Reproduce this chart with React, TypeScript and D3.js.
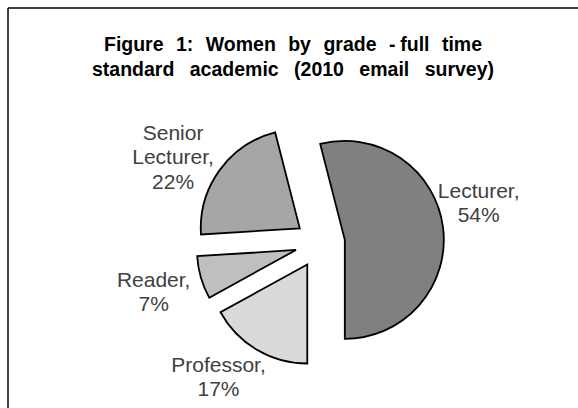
import React from 'react';
import * as d3 from 'd3';

// slice order as drawn clockwise from 6 o'clock
const grades = ['Professor', 'Reader', 'Senior Lecturer', 'Lecturer'];
const shares = [17, 7, 22, 54];
const fills = ['#d9d9d9', '#bfbfbf', '#a6a6a6', '#808080'];
const labelLines = [
  ['Professor,', '17%'],
  ['Reader,', '7%'],
  ['Senior', 'Lecturer,', '22%'],
  ['Lecturer,', '54%'],
];
// small nudges of the label blocks
const labelNudge = [
  [-16, -11],
  [-5, 2],
  [-11, 13],
  [-8, -19],
];
// the hyphen sits close to "full" in the original, hence the narrow space
const titleLines = [
  'Figure 1: Women by grade -\u2005full time',
  'standard academic (2010 email survey)',
];

const W = 578;
const H = 408;

const App = () => {
  const cx = 320;
  const cy = 243;
  const radius = 99;
  const explode = 25;
  const labelR = 168;
  const lineH = 24.4;
  const capH = 14.3;

  const pie = d3.pie<number>()
    .sort(null)
    .startAngle(Math.PI)
    .endAngle(Math.PI * 3);
  const arcs = pie(shares);
  const arc = d3.arc<d3.PieArcDatum<number>>()
    .innerRadius(0)
    .outerRadius(radius);

  return (
    <svg width={W} height={H} style={{ position: 'absolute', left: 0, top: 0, background: '#fff' }}
      fontFamily="'Liberation Sans', Arial, sans-serif">
      {/* chart frame, only top and left edges fall inside the picture */}
      <line x1={8} y1={8} x2={W} y2={8} stroke="#000" strokeWidth={1.5} />
      <line x1={8} y1={8} x2={8} y2={H} stroke="#000" strokeWidth={1.5} />

      <text x={293} y={50.5} textAnchor="middle" fontWeight="bold" fontSize={19.5}
        fill="#000" style={{ wordSpacing: '7px' }}>{titleLines[0]}</text>
      <text x={293} y={75.5} textAnchor="middle" fontWeight="bold" fontSize={19.5}
        fill="#000" style={{ wordSpacing: '10px' }}>{titleLines[1]}</text>

      {arcs.map((a, i) => {
        const mid = (a.startAngle + a.endAngle) / 2;
        const dx = explode * Math.sin(mid);
        const dy = -explode * Math.cos(mid);
        return (
          <path key={grades[i]} d={arc(a) || ''}
            transform={`translate(${cx + dx},${cy + dy})`}
            fill={fills[i]} stroke="#000" strokeWidth={1.8} strokeLinejoin="miter" />
        );
      })}

      {arcs.map((a, i) => {
        const mid = (a.startAngle + a.endAngle) / 2;
        const lx = cx + labelR * Math.sin(mid) + labelNudge[i][0];
        const ly = cy - labelR * Math.cos(mid) + labelNudge[i][1];
        const lines = labelLines[i];
        const b1 = ly - ((lines.length - 1) * lineH - capH) / 2;
        return (
          <text key={'l' + grades[i]} x={lx} y={b1} textAnchor="middle" fontSize={21} fill="#404040">
            {lines.map((t, j) => (
              <tspan key={j} x={lx} y={b1 + j * lineH}>{t}</tspan>
            ))}
          </text>
        );
      })}
    </svg>
  );
};

export default App;
